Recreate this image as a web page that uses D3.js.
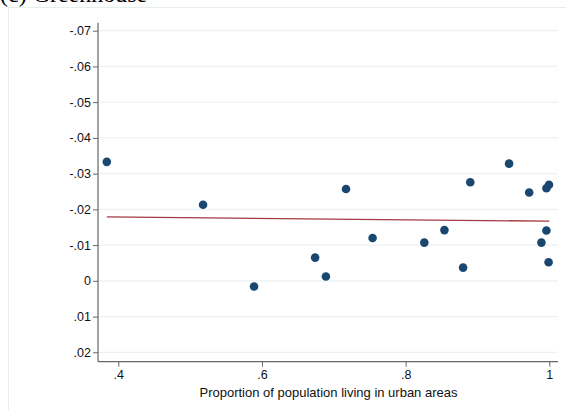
<!DOCTYPE html>
<html>
<head>
<meta charset="utf-8">
<script src="https://cdn.jsdelivr.net/npm/d3@7"></script>
<style>
  html, body { margin: 0; padding: 0; background: #fff; }
  svg { display: block; }
</style>
</head>
<body>
<svg id="chart" width="566" height="410"></svg>
<script>
// ---- data ----
const urbanShare = [0.384, 0.518, 0.589, 0.674, 0.689, 0.717, 0.754, 0.826, 0.854, 0.880, 0.890, 0.944, 0.972, 0.996, 0.9996, 0.996, 0.989, 0.999];
const effect     = [-0.0333, -0.0213, 0.0016, -0.0065, -0.0012, -0.0257, -0.0120, -0.0107, -0.0142, -0.0037, -0.0276, -0.0328, -0.0247, -0.0259, -0.0269, -0.0141, -0.0107, -0.0052];
const fitX = [0.384, 1.0];
const fitY = [-0.0179, -0.0167];
const xTicks = [0.4, 0.6, 0.8, 1];
const xTickLabels = [".4", ".6", ".8", "1"];
const yTicks = [-0.07, -0.06, -0.05, -0.04, -0.03, -0.02, -0.01, 0, 0.01, 0.02];
const yTickLabels = ["-.07", "-.06", "-.05", "-.04", "-.03", "-.02", "-.01", "0", ".01", ".02"];
const xTitle = "Proportion of population living in urban areas";
const panelTitle = "(c) Greenhouse";

// ---- layout ----
const svg = d3.select("#chart");
const plotLeft = 98, plotRight = 558, plotTop = 22.7, plotBottom = 361.7;

const x = d3.scaleLinear().domain([0.4, 1]).range([118.3, 549.3]);
const y = d3.scaleLinear().domain([-0.07, 0.02]).range([30.7, 352.3]);

// outer graph region border
svg.append("rect")
  .attr("x", 8.5).attr("y", 7.5).attr("width", 600).attr("height", 450)
  .attr("fill", "none").attr("stroke", "#E6EEEE").attr("stroke-width", 1);

// title (clipped at top, as in the reference)
svg.append("text")
  .attr("x", 0).attr("y", 2)
  .attr("font-family", "'Liberation Serif', 'Times New Roman', serif")
  .attr("font-size", 24)
  .attr("fill", "#000")
  .text(panelTitle);

// gridlines
svg.append("g").selectAll("line").data(yTicks).join("line")
  .attr("x1", plotLeft).attr("x2", plotRight)
  .attr("y1", d => y(d)).attr("y2", d => y(d))
  .attr("stroke", "#EAF2F3").attr("stroke-width", 1.2);

// y axis
const yAxis = d3.axisLeft(y).tickValues(yTicks)
  .tickFormat((d, i) => yTickLabels[i]).tickSize(5).tickPadding(2);
const gy = svg.append("g").attr("transform", `translate(${plotLeft},0)`).call(yAxis);
gy.select(".domain").remove();
gy.append("line").attr("x1", 0).attr("x2", 0).attr("y1", plotTop).attr("y2", plotBottom)
  .attr("stroke", "#666").attr("stroke-width", 1.2);
gy.selectAll(".tick line").attr("stroke", "#666");
gy.selectAll(".tick text").attr("font-family", "'Liberation Sans', Arial, sans-serif")
  .attr("font-size", 12.5).attr("fill", "#111");

// x axis
const xAxis = d3.axisBottom(x).tickValues(xTicks)
  .tickFormat((d, i) => xTickLabels[i]).tickSize(5).tickPadding(3);
const gx = svg.append("g").attr("transform", `translate(0,${plotBottom})`).call(xAxis);
gx.select(".domain").remove();
gx.append("line").attr("x1", plotLeft).attr("x2", plotRight).attr("y1", 0).attr("y2", 0)
  .attr("stroke", "#666").attr("stroke-width", 1.2);
gx.selectAll(".tick line").attr("stroke", "#666");
gx.selectAll(".tick text").attr("font-family", "'Liberation Sans', Arial, sans-serif")
  .attr("font-size", 12.5).attr("fill", "#111");

// x title
svg.append("text")
  .attr("x", 328.5).attr("y", 397)
  .attr("text-anchor", "middle")
  .attr("font-family", "'Liberation Sans', Arial, sans-serif")
  .attr("font-size", 13).attr("fill", "#111")
  .text(xTitle);

// fit line
svg.append("path")
  .datum(fitX.map((d, i) => [d, fitY[i]]))
  .attr("d", d3.line().x(d => x(d[0])).y(d => y(d[1])))
  .attr("fill", "none").attr("stroke", "#A33B43").attr("stroke-width", 1.3);

// points
svg.append("g").selectAll("circle").data(urbanShare.map((d, i) => [d, effect[i]])).join("circle")
  .attr("cx", d => x(d[0])).attr("cy", d => y(d[1])).attr("r", 4.3)
  .attr("fill", "#1A476F");
</script>
</body>
</html>
